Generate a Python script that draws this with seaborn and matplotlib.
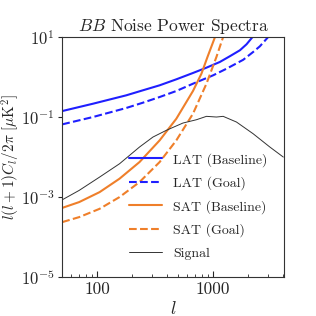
import numpy as np
import pandas as pd
import matplotlib
matplotlib.use("Agg")
import matplotlib.pyplot as plt
import matplotlib.ticker as mticker
import seaborn as sns

# ---- data ----
lat_base_l = [50, 92, 178, 248, 346, 482, 671, 877, 1143, 1393, 1706, 1945, 2193]
lat_base_n = [0.141, 0.215, 0.348, 0.465, 0.62, 0.875, 1.26, 1.71, 2.37, 3.29,
              4.66, 6.57, 10.0]

lat_goal_l = [50, 92, 178, 248, 346, 482, 671, 1000, 1306, 1820, 2218, 2535, 2992]
lat_goal_n = [0.0656, 0.1, 0.168, 0.228, 0.316, 0.447, 0.68, 1.1, 1.61, 2.69,
              4.22, 5.85, 10.0]

sat_base_l = [50, 70, 105, 156, 232, 346, 482, 671, 794, 895, 1040]
sat_base_n = [5.37e-4, 7.5e-4, 1.33e-3, 2.88e-3, 7.5e-3, 0.0261, 0.0906, 0.447,
              1.21, 3.16, 10.0]

sat_goal_l = [50, 70, 105, 156, 232, 346, 482, 671, 877, 1069, 1222]
sat_goal_n = [2.37e-4, 3.16e-4, 5.09e-4, 1.0e-3, 2.37e-3, 7.5e-3, 0.0261, 0.121,
              0.68, 3.16, 10.0]

signal_l = [50, 70, 105, 156, 232, 303, 395, 550, 718, 877, 1069, 1222, 1592,
            2218, 3090, 4036]
signal_c = [8.55e-4, 1.47e-3, 3.16e-3, 6.8e-3, 0.0178, 0.0316, 0.0465, 0.0708,
            0.0855, 0.104, 0.1, 0.104, 0.075, 0.0382, 0.0178, 0.01]

x_ticks = [100, 1000]
y_ticks = [1e1, 1e-1, 1e-3, 1e-5]

# ---- style ----
sns.set_style("ticks")
plt.rcParams["font.family"] = ["cmr10", "DejaVu Serif"]
plt.rcParams["mathtext.fontset"] = "cm"
plt.rcParams["axes.formatter.use_mathtext"] = True
plt.rcParams["axes.unicode_minus"] = False

fig = plt.figure(figsize=(3.16, 3.16), dpi=100)
ax = fig.add_axes([0.197, 0.123, 0.702, 0.760])

series = [
    (lat_base_l, lat_base_n, "LAT (Baseline)", "#1f1fff", "-", 1.5),
    (lat_goal_l, lat_goal_n, "LAT (Goal)", "#1f1fff", "--", 1.5),
    (sat_base_l, sat_base_n, "SAT (Baseline)", "#ef7f2a", "-", 1.5),
    (sat_goal_l, sat_goal_n, "SAT (Goal)", "#ef7f2a", "--", 1.5),
    (signal_l, signal_c, "Signal", "#333333", "-", 0.7),
]
for xs, ys, lab, col, ls, lw in series:
    df = pd.DataFrame({"l": xs, "v": ys})
    sns.lineplot(data=df, x="l", y="v", ax=ax, color=col, linestyle=ls,
                 linewidth=lw, label=lab, sort=False, estimator=None)

ax.set_xscale("log")
ax.set_yscale("log")
ax.set_xlim(50, 4100)
ax.set_ylim(1e-5, 1e1)

ax.xaxis.set_major_locator(mticker.FixedLocator(x_ticks))
ax.xaxis.set_major_formatter(mticker.FuncFormatter(lambda v, p: f"{int(round(v))}"))
ax.xaxis.set_minor_locator(mticker.LogLocator(base=10, subs=np.arange(2, 10), numticks=20))
ax.xaxis.set_minor_formatter(mticker.NullFormatter())
ax.yaxis.set_major_locator(mticker.FixedLocator(y_ticks))
ax.yaxis.set_major_formatter(mticker.LogFormatterMathtext())
ax.yaxis.set_minor_locator(mticker.NullLocator())

ax.tick_params(axis="x", which="major", direction="in", length=4, width=0.8, labelsize=12.5)
ax.tick_params(axis="x", which="minor", direction="in", length=2.5, width=0.6)
ax.tick_params(axis="y", which="major", direction="out", length=3, width=0.8,
               labelsize=12, pad=2.5)
for s in ax.spines.values():
    s.set_color("#333333")
    s.set_linewidth(0.8)

ax.set_title(r"$BB$ Noise Power Spectra", fontsize=12.5, pad=4)
ax.set_xlabel(r"$l$", fontsize=13, labelpad=2)
ax.set_ylabel(r"$l(l+1)C_l/2\pi\ [\mu\mathrm{K}^2]$", fontsize=11)
ax.yaxis.set_label_coords(-0.183, 0.5)

ax.legend(loc="lower right", bbox_to_anchor=(0.982, 0.021), frameon=False,
          fontsize=10, labelspacing=0.7, handlelength=2.4, borderaxespad=0.5)

fig.savefig("out.png", dpi=100)
